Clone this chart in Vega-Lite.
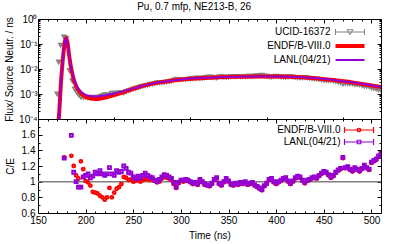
{
  "$schema": "https://vega.github.io/schema/vega-lite/v6.json",
  "padding": {"left": 4, "top": 2, "right": 5, "bottom": 2},
  "title": {"text": "Pu, 0.7 mfp, NE213-B, 26", "fontSize": 10, "fontWeight": "normal", "font": "Liberation Sans", "offset": 2, "anchor": "middle", "color": "black"},
  "spacing": 0,
  "bounds": "flush",
  "datasets": {
    "model": [
      {"t":171,"endf":0.00004,"lanl":0.00004},
      {"t":172.5,"endf":0.00025,"lanl":0.00025},
      {"t":174,"endf":0.0025,"lanl":0.0025},
      {"t":175.5,"endf":0.014,"lanl":0.014},
      {"t":177,"endf":0.055,"lanl":0.055},
      {"t":178.5,"endf":0.14,"lanl":0.14},
      {"t":179.7,"endf":0.17,"lanl":0.17},
      {"t":181,"endf":0.11,"lanl":0.11},
      {"t":182.5,"endf":0.04,"lanl":0.04},
      {"t":184,"endf":0.016,"lanl":0.016},
      {"t":185.5,"endf":0.008,"lanl":0.0085},
      {"t":187,"endf":0.0045,"lanl":0.0048},
      {"t":189,"endf":0.0026,"lanl":0.0028},
      {"t":192,"endf":0.0015,"lanl":0.0017},
      {"t":196,"endf":0.001,"lanl":0.00115},
      {"t":200,"endf":0.00078,"lanl":0.00093},
      {"t":205,"endf":0.00067,"lanl":0.00083},
      {"t":210,"endf":0.00063,"lanl":0.0008},
      {"t":215,"endf":0.00065,"lanl":0.00083},
      {"t":220,"endf":0.00071,"lanl":0.00088},
      {"t":230,"endf":0.0009,"lanl":0.00105},
      {"t":240,"endf":0.0012,"lanl":0.0013},
      {"t":250,"endf":0.0016,"lanl":0.00165},
      {"t":260,"endf":0.0021,"lanl":0.00212},
      {"t":270,"endf":0.0026,"lanl":0.0026},
      {"t":280,"endf":0.003,"lanl":0.00302},
      {"t":290,"endf":0.0034,"lanl":0.00342},
      {"t":300,"endf":0.0038,"lanl":0.00382},
      {"t":320,"endf":0.0043,"lanl":0.00432},
      {"t":340,"endf":0.0047,"lanl":0.00472},
      {"t":360,"endf":0.0049,"lanl":0.00492},
      {"t":380,"endf":0.005,"lanl":0.00502},
      {"t":400,"endf":0.005,"lanl":0.00502},
      {"t":420,"endf":0.0048,"lanl":0.00482},
      {"t":440,"endf":0.0043,"lanl":0.00432},
      {"t":460,"endf":0.0036,"lanl":0.00362},
      {"t":480,"endf":0.0029,"lanl":0.00292},
      {"t":500,"endf":0.0022,"lanl":0.00222},
      {"t":510,"endf":0.0019,"lanl":0.00191}
    ],
    "exp": [
      {"t":170.2,"flux":0.001},{"t":171.7,"flux":0.019},{"t":173.8,"flux":0.09},{"t":177.3,"flux":0.19},
      {"t":179.7,"flux":0.17},{"t":183.2,"flux":0.0085},{"t":186,"flux":0.0034},{"t":188.5,"flux":0.0016},
      {"t":190.5,"flux":0.0012},{"t":192.5,"flux":0.00095},
      {"t":195,"flux":0.00075},{"t":197.5,"flux":0.00074},{"t":200,"flux":0.00074},{"t":202.5,"flux":0.00071},
      {"t":205,"flux":0.00069},{"t":207.5,"flux":0.00074},{"t":210,"flux":0.00073},{"t":212.5,"flux":0.00075},
      {"t":215,"flux":0.00079},{"t":217.5,"flux":0.00085},{"t":220,"flux":0.00094},{"t":222.5,"flux":0.00095},
      {"t":225,"flux":0.00088},{"t":227.5,"flux":0.00108},{"t":230,"flux":0.00107},{"t":232.5,"flux":0.00109},
      {"t":235,"flux":0.00114},{"t":237.5,"flux":0.00116},{"t":240,"flux":0.00113},{"t":242.5,"flux":0.00124},
      {"t":245,"flux":0.00137},{"t":247.5,"flux":0.00146},{"t":250,"flux":0.0016},{"t":252.5,"flux":0.0017},
      {"t":255,"flux":0.00181},{"t":257.5,"flux":0.00197},{"t":260,"flux":0.00206},{"t":262.5,"flux":0.00216},
      {"t":265,"flux":0.00226},{"t":267.5,"flux":0.00242},{"t":270,"flux":0.00252},{"t":272.5,"flux":0.00267},
      {"t":275,"flux":0.00283},{"t":277.5,"flux":0.0029},{"t":280,"flux":0.00288},{"t":282.5,"flux":0.00292},
      {"t":285,"flux":0.00305},{"t":287.5,"flux":0.00317},{"t":290,"flux":0.00333},{"t":292.5,"flux":0.00361},
      {"t":295,"flux":0.00391},{"t":297.5,"flux":0.00378},{"t":300,"flux":0.00376},{"t":302.5,"flux":0.00387},
      {"t":305,"flux":0.00385},{"t":307.5,"flux":0.00396},{"t":310,"flux":0.00409},{"t":312.5,"flux":0.00423},
      {"t":315,"flux":0.00426},{"t":317.5,"flux":0.00441},{"t":320,"flux":0.00422},{"t":322.5,"flux":0.00439},
      {"t":325,"flux":0.00458},{"t":327.5,"flux":0.00468},{"t":330,"flux":0.00479},{"t":332.5,"flux":0.00469},
      {"t":335,"flux":0.00451},{"t":337.5,"flux":0.00447},{"t":340,"flux":0.00485},{"t":342.5,"flux":0.00497},
      {"t":345,"flux":0.0048},{"t":347.5,"flux":0.00463},{"t":350,"flux":0.0048},{"t":352.5,"flux":0.00502},
      {"t":355,"flux":0.0051},{"t":357.5,"flux":0.00502},{"t":360,"flux":0.0051},{"t":362.5,"flux":0.00501},
      {"t":365,"flux":0.00507},{"t":367.5,"flux":0.00499},{"t":370,"flux":0.00516},{"t":372.5,"flux":0.00511},
      {"t":375,"flux":0.00507},{"t":377.5,"flux":0.00525},{"t":380,"flux":0.00538},{"t":382.5,"flux":0.00549},
      {"t":385,"flux":0.00562},{"t":387.5,"flux":0.00532},{"t":390,"flux":0.00515},{"t":392.5,"flux":0.0049},
      {"t":395,"flux":0.00485},{"t":397.5,"flux":0.00505},{"t":400,"flux":0.00515},{"t":402.5,"flux":0.00503},
      {"t":405,"flux":0.0049},{"t":407.5,"flux":0.00479},{"t":410,"flux":0.00471},{"t":412.5,"flux":0.00488},
      {"t":415,"flux":0.005},{"t":417.5,"flux":0.00483},{"t":420,"flux":0.00462},{"t":422.5,"flux":0.00447},
      {"t":425,"flux":0.00446},{"t":427.5,"flux":0.00456},{"t":430,"flux":0.00464},{"t":432.5,"flux":0.00445},
      {"t":435,"flux":0.00434},{"t":437.5,"flux":0.00419},{"t":440,"flux":0.0041},{"t":442.5,"flux":0.00405},
      {"t":445,"flux":0.00386},{"t":447.5,"flux":0.00367},{"t":450,"flux":0.00353},{"t":452.5,"flux":0.00348},
      {"t":455,"flux":0.0035},{"t":457.5,"flux":0.00351},{"t":460,"flux":0.00336},{"t":462.5,"flux":0.00316},
      {"t":465,"flux":0.00301},{"t":467.5,"flux":0.00288},{"t":470,"flux":0.0025},{"t":472.5,"flux":0.0027},
      {"t":475,"flux":0.00261},{"t":477.5,"flux":0.0026},{"t":480,"flux":0.00257},{"t":482.5,"flux":0.0024},
      {"t":485,"flux":0.00237},{"t":487.5,"flux":0.00234},{"t":490,"flux":0.0022},{"t":492.5,"flux":0.00205},
      {"t":495,"flux":0.00203},{"t":497.5,"flux":0.00199},{"t":500,"flux":0.00177},{"t":502.5,"flux":0.00168},
      {"t":505,"flux":0.0016},{"t":507.5,"flux":0.00149},{"t":510,"flux":0.00141}
    ],
    "ce": [
      {"t":177.5,"endf":1.31,"lanl":1.30},{"t":185,"endf":1.33,"lanl":1.59},{"t":187.5,"endf":1.20,"lanl":1.12},
      {"t":190,"endf":1.08,"lanl":1.00},{"t":192.5,"endf":1.04,"lanl":0.93},{"t":195,"endf":1.26,"lanl":0.93},
      {"t":197.5,"endf":1.16,"lanl":1.06},{"t":200,"endf":1.01,"lanl":1.08},{"t":202.5,"endf":0.99,"lanl":1.10},
      {"t":205,"endf":0.95,"lanl":1.05},{"t":207.5,"endf":0.87,"lanl":1.07},{"t":210,"endf":0.86,"lanl":1.12},
      {"t":212.5,"endf":0.85,"lanl":1.10},{"t":215,"endf":0.82,"lanl":1.14},{"t":217.5,"endf":0.80,"lanl":1.10},
      {"t":220,"endf":0.77,"lanl":1.08},{"t":222.5,"endf":0.80,"lanl":1.10},{"t":225,"endf":0.92,"lanl":1.18},
      {"t":227.5,"endf":0.80,"lanl":1.10},{"t":230,"endf":0.86,"lanl":1.08},{"t":232.5,"endf":0.91,"lanl":1.14},
      {"t":235,"endf":0.93,"lanl":1.12},{"t":237.5,"endf":0.97,"lanl":1.13},{"t":240,"endf":1.06,"lanl":1.20},
      {"t":242.5,"endf":1.05,"lanl":1.17},{"t":245,"endf":1.02,"lanl":1.12},{"t":247.5,"endf":1.03,"lanl":1.11},
      {"t":250,"endf":1.00,"lanl":1.06},{"t":252.5,"endf":1.01,"lanl":1.04},{"t":255,"endf":1.02,"lanl":1.07},
      {"t":257.5,"endf":1.00,"lanl":1.05},{"t":260,"endf":1.02,"lanl":1.08},{"t":262.5,"endf":1.03,"lanl":1.11},
      {"t":265,"endf":1.04,"lanl":1.08},{"t":267.5,"endf":1.02,"lanl":1.06},{"t":270,"endf":1.03,"lanl":1.05},
      {"t":272.5,"endf":1.01,"lanl":1.02},{"t":275,"endf":0.99,"lanl":1.00},{"t":277.5,"endf":1.00,"lanl":1.03},
      {"t":280,"endf":1.04,"lanl":1.06},{"t":282.5,"endf":1.06,"lanl":1.09},{"t":285,"endf":1.05,"lanl":1.08},
      {"t":287.5,"endf":1.04,"lanl":1.06},{"t":290,"endf":1.02,"lanl":1.04},{"t":292.5,"endf":0.97,"lanl":0.99},
      {"t":295,"endf":0.92,"lanl":0.93},{"t":297.5,"endf":0.98,"lanl":0.99},{"t":300,"endf":1.01,"lanl":1.02},
      {"t":302.5,"endf":1.00,"lanl":1.02},{"t":305,"endf":1.02,"lanl":1.03},{"t":307.5,"endf":1.01,"lanl":1.02},
      {"t":310,"endf":0.99,"lanl":1.00},{"t":312.5,"endf":0.97,"lanl":0.98},{"t":315,"endf":0.98,"lanl":0.99},
      {"t":317.5,"endf":0.96,"lanl":0.97},{"t":320,"endf":1.02,"lanl":1.03},{"t":322.5,"endf":0.99,"lanl":1.00},
      {"t":325,"endf":0.96,"lanl":0.97},{"t":327.5,"endf":0.95,"lanl":0.96},{"t":330,"endf":0.94,"lanl":0.95},
      {"t":332.5,"endf":0.97,"lanl":0.98},{"t":335,"endf":1.02,"lanl":1.03},{"t":337.5,"endf":1.04,"lanl":1.05},
      {"t":340,"endf":0.97,"lanl":0.98},{"t":342.5,"endf":0.95,"lanl":0.96},{"t":345,"endf":0.99,"lanl":1.00},
      {"t":347.5,"endf":1.03,"lanl":1.04},{"t":350,"endf":1.00,"lanl":1.01},{"t":352.5,"endf":0.96,"lanl":0.97},
      {"t":355,"endf":0.95,"lanl":0.96},{"t":357.5,"endf":0.97,"lanl":0.98},{"t":360,"endf":0.96,"lanl":0.97},
      {"t":362.5,"endf":0.98,"lanl":0.99},{"t":365,"endf":0.97,"lanl":0.98},{"t":367.5,"endf":0.99,"lanl":1.00},
      {"t":370,"endf":0.96,"lanl":0.97},{"t":372.5,"endf":0.97,"lanl":0.98},{"t":375,"endf":0.98,"lanl":0.99},
      {"t":377.5,"endf":0.95,"lanl":0.96},{"t":380,"endf":0.93,"lanl":0.94},{"t":382.5,"endf":0.91,"lanl":0.92},
      {"t":385,"endf":0.89,"lanl":0.90},{"t":387.5,"endf":0.94,"lanl":0.95},{"t":390,"endf":0.97,"lanl":0.98},
      {"t":392.5,"endf":1.02,"lanl":1.03},{"t":395,"endf":1.03,"lanl":1.04},{"t":397.5,"endf":0.99,"lanl":1.00},
      {"t":400,"endf":0.97,"lanl":0.98},{"t":402.5,"endf":0.99,"lanl":1.00},{"t":405,"endf":1.01,"lanl":1.02},
      {"t":407.5,"endf":1.03,"lanl":1.04},{"t":410,"endf":1.04,"lanl":1.05},{"t":412.5,"endf":1.00,"lanl":1.01},
      {"t":415,"endf":0.97,"lanl":0.98},{"t":417.5,"endf":1.00,"lanl":1.01},{"t":420,"endf":1.04,"lanl":1.05},
      {"t":422.5,"endf":1.06,"lanl":1.07},{"t":425,"endf":1.05,"lanl":1.06},{"t":427.5,"endf":1.01,"lanl":1.02},
      {"t":430,"endf":0.98,"lanl":0.99},{"t":432.5,"endf":1.01,"lanl":1.02},{"t":435,"endf":1.02,"lanl":1.03},
      {"t":437.5,"endf":1.04,"lanl":1.05},{"t":440,"endf":1.05,"lanl":1.06},{"t":442.5,"endf":1.04,"lanl":1.05},
      {"t":445,"endf":1.07,"lanl":1.08},{"t":447.5,"endf":1.10,"lanl":1.11},{"t":450,"endf":1.12,"lanl":1.13},
      {"t":452.5,"endf":1.11,"lanl":1.12},{"t":455,"endf":1.08,"lanl":1.09},{"t":457.5,"endf":1.05,"lanl":1.06},
      {"t":460,"endf":1.07,"lanl":1.08},{"t":462.5,"endf":1.11,"lanl":1.12},{"t":465,"endf":1.14,"lanl":1.15},
      {"t":467.5,"endf":1.16,"lanl":1.17},{"t":470,"endf":1.30,"lanl":1.31},{"t":472.5,"endf":1.17,"lanl":1.18},
      {"t":475,"endf":1.18,"lanl":1.19},{"t":477.5,"endf":1.15,"lanl":1.16},{"t":480,"endf":1.13,"lanl":1.14},
      {"t":482.5,"endf":1.17,"lanl":1.18},{"t":485,"endf":1.15,"lanl":1.16},{"t":487.5,"endf":1.13,"lanl":1.14},
      {"t":490,"endf":1.16,"lanl":1.17},{"t":492.5,"endf":1.20,"lanl":1.21},{"t":495,"endf":1.17,"lanl":1.18},
      {"t":497.5,"endf":1.15,"lanl":1.16},{"t":500,"endf":1.24,"lanl":1.25},{"t":502.5,"endf":1.26,"lanl":1.27},
      {"t":505,"endf":1.28,"lanl":1.29},{"t":507.5,"endf":1.32,"lanl":1.33},{"t":510,"endf":1.35,"lanl":1.36}
    ]
  },
  "vconcat": [
    {
      "width": 343, "height": 100,
      "layer": [
        {"layer": [
          {"data": {"name": "exp"},
           "mark": {"type": "point", "shape": "triangle-down", "filled": false, "strokeWidth": 1.6, "size": 14, "opacity": 1, "clip": true},
           "encoding": {
             "x": {"field": "t", "type": "quantitative", "title": null, "scale": {"domain": [150, 510], "nice": false, "zero": false},
                   "axis": {"orient": "bottom", "title": null, "labels": false,
                            "values": [150,160,170,180,190,200,210,220,230,240,250,260,270,280,290,300,310,320,330,340,350,360,370,380,390,400,410,420,430,440,450,460,470,480,490,500,510],
                            "tickSize": {"condition": {"test": "datum.value % 50 == 0", "value": -4}, "value": -2}}},
             "y": {"field": "flux", "type": "quantitative", "title": "Flux/ Source Neutr. / ns", "scale": {"type": "log", "domain": [0.0001, 1], "nice": false},
                   "axis": {"orient": "left", "title": "Flux/ Source Neutr. / ns", "titlePadding": 4, "labelOverlap": "greedy", "labelPadding": 5,
                            "values": [0.0001,0.0002,0.0003,0.0004,0.0005,0.0006,0.0007,0.0008,0.0009,0.001,0.002,0.003,0.004,0.005,0.006,0.007,0.008,0.009,0.01,0.02,0.03,0.04,0.05,0.06,0.07,0.08,0.09,0.1,0.2,0.3,0.4,0.5,0.6,0.7,0.8,0.9,1],
                            "labelExpr": "abs(log(datum.value)/LN10 - round(log(datum.value)/LN10)) > 0.001 ? '' : round(log(datum.value)/LN10) == 0 ? '10⁰' : round(log(datum.value)/LN10) == -1 ? '10⁻¹' : round(log(datum.value)/LN10) == -2 ? '10⁻²' : round(log(datum.value)/LN10) == -3 ? '10⁻³' : '10⁻⁴'",
                            "tickSize": {"condition": {"test": "abs(log(datum.value)/LN10 - round(log(datum.value)/LN10)) < 0.001", "value": -4}, "value": -2}}},
             "color": {"datum": "exp", "type": "nominal",
                       "scale": {"domain": ["exp", "endf", "lanl"], "range": ["#808080", "#ff0000", "#9400d3"]},
                       "legend": {"orient": "top-right", "offset": 5, "title": null, "padding": 3, "rowPadding": 1,
                                  "labelAlign": "right", "labelOffset": -24.5, "symbolSize": 100,
                                  "labelFontSize": 10, "labelFont": "Liberation Sans", "labelColor": "black",
                                  "labelExpr": "datum.value == 'exp' ? 'UCID-16372' : datum.value == 'endf' ? 'ENDF/B-VIII.0' : 'LANL(04/21)'",
                                  "symbolType": {"expr": "datum.value == 'exp' ? 'M-2.9,0H2.9M-2.9,-0.6V0.6M2.9,-0.6V0.6M-0.6,-0.45H0.6L0,0.55Z' : 'M-2.9,0H2.9'"},
                                  "symbolStrokeWidth": {"expr": "datum.value == 'endf' ? 4 : datum.value == 'lanl' ? 2 : 1"},
                                  "symbolOpacity": 1}}
           }},
          {"data": {"name": "model"},
           "mark": {"type": "line", "strokeWidth": 4, "interpolate": "monotone", "clip": true},
           "encoding": {
             "x": {"field": "t", "type": "quantitative", "title": null},
             "y": {"field": "endf", "type": "quantitative", "title": "Flux/ Source Neutr. / ns"},
             "color": {"datum": "endf", "type": "nominal"}
           }},
          {"data": {"name": "model"},
           "mark": {"type": "line", "strokeWidth": 2, "interpolate": "monotone", "clip": true},
           "encoding": {
             "x": {"field": "t", "type": "quantitative", "title": null},
             "y": {"field": "lanl", "type": "quantitative", "title": "Flux/ Source Neutr. / ns"},
             "color": {"datum": "lanl", "type": "nominal"}
           }}
        ]},
        {"data": {"name": "model"},
         "mark": {"type": "point", "opacity": 0},
         "encoding": {
           "x": {"field": "t", "type": "quantitative", "scale": {"domain": [150, 510], "nice": false, "zero": false},
                 "axis": {"orient": "top", "title": null, "labels": false,
                          "values": [150,160,170,180,190,200,210,220,230,240,250,260,270,280,290,300,310,320,330,340,350,360,370,380,390,400,410,420,430,440,450,460,470,480,490,500,510],
                          "tickSize": {"condition": {"test": "datum.value % 50 == 0", "value": -4}, "value": -2}}},
           "y": {"field": "endf", "type": "quantitative", "scale": {"type": "log", "domain": [0.0001, 1], "nice": false},
                 "axis": {"orient": "right", "title": null, "labels": false,
                          "values": [0.0001,0.0002,0.0003,0.0004,0.0005,0.0006,0.0007,0.0008,0.0009,0.001,0.002,0.003,0.004,0.005,0.006,0.007,0.008,0.009,0.01,0.02,0.03,0.04,0.05,0.06,0.07,0.08,0.09,0.1,0.2,0.3,0.4,0.5,0.6,0.7,0.8,0.9,1],
                          "tickSize": {"condition": {"test": "abs(log(datum.value)/LN10 - round(log(datum.value)/LN10)) < 0.001", "value": -4}, "value": -2}}}
         }}
      ],
      "resolve": {"scale": {"x": "independent", "y": "independent"}}
    },
    {
      "width": 343, "height": 94,
      "layer": [
        {"layer": [
          {"data": {"values": [{}]},
           "mark": {"type": "rule", "color": "#808080", "strokeWidth": 1.5},
           "encoding": {
             "y": {"datum": 1, "type": "quantitative", "title": "C/E", "scale": {"domain": [0.6, 1.8], "nice": false, "zero": false},
                   "axis": {"orient": "left", "title": "C/E", "titlePadding": 6, "labelPadding": 7,
                            "labelOverlap": false,
                            "values": [0.6, 1.0, 1.4], "format": "~g",
                            "tickSize": -4}}
           }},
          {"data": {"name": "ce"},
           "mark": {"type": "point", "shape": "circle", "filled": false, "strokeWidth": 2, "size": 8, "opacity": 1, "clip": true},
           "encoding": {
             "x": {"field": "t", "type": "quantitative", "title": "Time (ns)", "scale": {"domain": [150, 510], "nice": false, "zero": false},
                   "axis": {"orient": "bottom", "title": "Time (ns)", "titlePadding": 5, "labelPadding": 6,
                            "labelOverlap": false,
                            "values": [150, 200, 250, 300, 350, 400, 450, 500],
                            "tickSize": -4}},
             "y": {"field": "endf", "type": "quantitative", "title": "C/E"},
             "color": {"datum": "endf", "type": "nominal",
                       "scale": {"domain": ["endf", "lanl"], "range": ["#ff0000", "#9400d3"]},
                       "legend": {"orient": "top-right", "offset": 5, "title": null, "padding": 0, "rowPadding": 0,
                                  "labelAlign": "right", "labelOffset": -24.5, "symbolSize": 100,
                                  "labelFontSize": 10, "labelFont": "Liberation Sans", "labelColor": "black",
                                  "labelExpr": "datum.value == 'endf' ? 'ENDF/B-VIII.0' : 'LANL(04/21)'",
                                  "symbolType": {"expr": "datum.value == 'endf' ? 'M-2.9,0H2.9M-2.9,-0.6V0.6M2.9,-0.6V0.6M-0.35,0A0.35,0.35 0 1 1 0.35,0A0.35,0.35 0 1 1 -0.35,0Z' : 'M-2.9,0H2.9M-2.9,-0.6V0.6M2.9,-0.6V0.6M-0.35,-0.35H0.35V0.35H-0.35Z'"},
                                  "symbolStrokeWidth": 1.2,
                                  "symbolOpacity": 1}}
           }},
          {"data": {"name": "ce"},
           "mark": {"type": "point", "shape": "square", "filled": false, "strokeWidth": 2, "size": 8, "opacity": 1, "clip": true},
           "encoding": {
             "x": {"field": "t", "type": "quantitative", "title": "Time (ns)"},
             "y": {"field": "lanl", "type": "quantitative", "title": "C/E"},
             "color": {"datum": "lanl", "type": "nominal"}
           }}
        ]},
        {"data": {"name": "ce"},
         "mark": {"type": "point", "opacity": 0},
         "encoding": {
           "x": {"field": "t", "type": "quantitative", "scale": {"domain": [150, 510], "nice": false, "zero": false},
                 "axis": {"orient": "top", "title": null, "labels": false,
                          "values": [150,160,170,180,190,200,210,220,230,240,250,260,270,280,290,300,310,320,330,340,350,360,370,380,390,400,410,420,430,440,450,460,470,480,490,500,510],
                          "tickSize": {"condition": {"test": "datum.value % 50 == 0", "value": -4}, "value": -2}}},
           "y": {"field": "endf", "type": "quantitative", "scale": {"domain": [0.6, 1.8], "nice": false, "zero": false},
                 "axis": {"orient": "right", "title": null, "labels": false,
                          "values": [0.6,0.7,0.8,0.9,1.0,1.1,1.2,1.3,1.4,1.5,1.6,1.7,1.8],
                          "tickSize": {"condition": {"test": "round(datum.value*10) % 2 == 0", "value": -4}, "value": -2}}}
         }},
        {"data": {"name": "ce"},
         "mark": {"type": "point", "opacity": 0},
         "encoding": {
           "x": {"field": "t", "type": "quantitative", "scale": {"domain": [150, 510], "nice": false, "zero": false},
                 "axis": {"orient": "bottom", "title": null, "labels": false, "domain": false,
                          "values": [160,170,180,190,210,220,230,240,260,270,280,290,310,320,330,340,360,370,380,390,410,420,430,440,460,470,480,490],
                          "tickSize": -2}},
           "y": {"field": "lanl", "type": "quantitative", "scale": {"domain": [0.6, 1.8], "nice": false, "zero": false},
                 "axis": {"orient": "left", "title": null, "domain": false, "labelPadding": 7, "labelOverlap": false,
                          "values": [0.8, 1.2, 1.6], "format": "~g",
                          "tickSize": -4}}
         }},
        {"data": {"name": "ce"},
         "mark": {"type": "point", "opacity": 0},
         "encoding": {
           "y": {"field": "endf", "type": "quantitative", "scale": {"domain": [0.6, 1.8], "nice": false, "zero": false},
                 "axis": {"orient": "left", "title": null, "labels": false, "domain": false,
                          "values": [0.7, 0.9, 1.1, 1.3, 1.5, 1.7],
                          "tickSize": -2}}
         }}
      ],
      "resolve": {"scale": {"x": "independent", "y": "independent"}}
    }
  ],
  "resolve": {"scale": {"color": "independent"}, "legend": {"color": "independent"}},
  "config": {
    "font": "Liberation Sans",
    "view": {"stroke": null},
    "axis": {"domainColor": "black", "domainWidth": 1, "tickColor": "black", "tickWidth": 1,
             "labelFont": "Liberation Sans", "labelFontSize": 10, "labelColor": "black",
             "titleFont": "Liberation Sans", "titleFontSize": 10, "titleFontWeight": "normal", "titleColor": "black",
             "grid": false, "labelPadding": 4, "labelFlush": false}
  }
}
